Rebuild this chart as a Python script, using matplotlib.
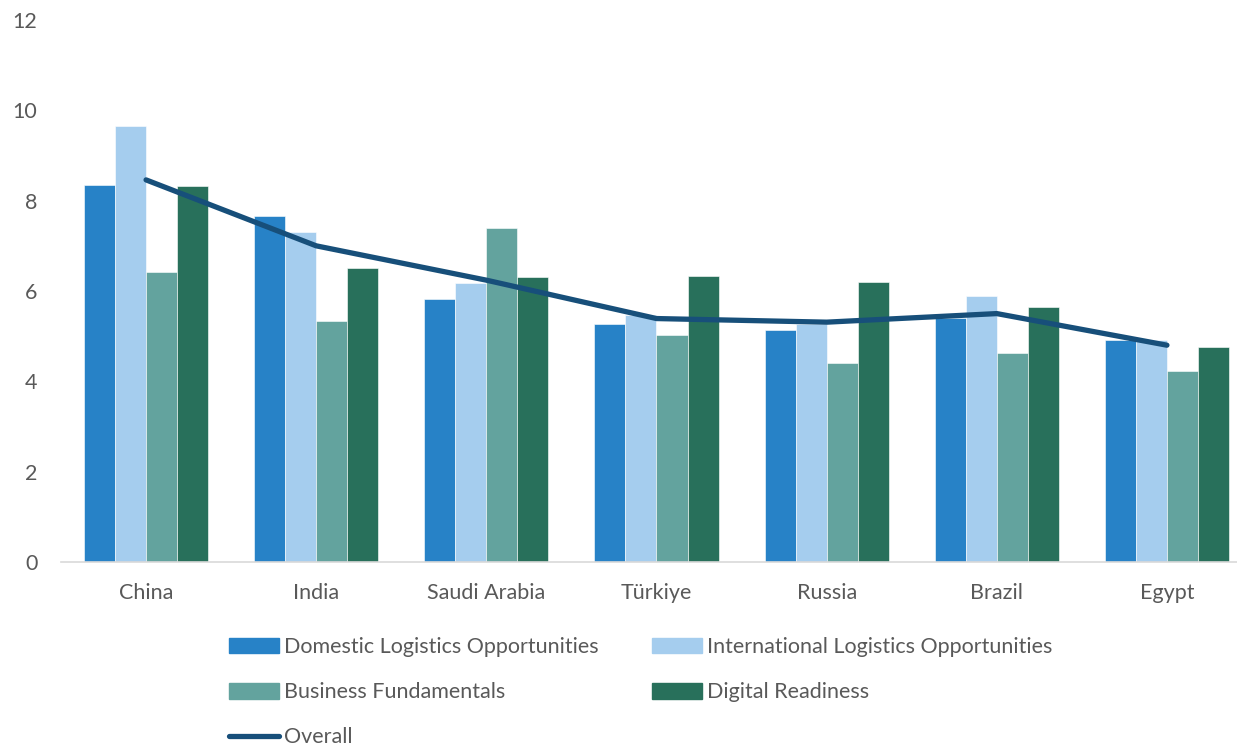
import numpy as np
import matplotlib
matplotlib.use("Agg")
import matplotlib.pyplot as plt
from matplotlib.lines import Line2D
from matplotlib.patches import Patch

# ----------------------------------------------------
# data
# ----------------------------------------------------
countries = ["China", "India", "Saudi Arabia", "Türkiye", "Russia", "Brazil", "Egypt"]
domestic = [8.34, 7.67, 5.82, 5.26, 5.13, 5.40, 4.91]
international = [9.66, 7.30, 6.18, 5.47, 5.27, 5.90, 4.92]
business = [6.43, 5.34, 7.39, 5.03, 4.40, 4.63, 4.23]
digital = [8.32, 6.52, 6.32, 6.34, 6.21, 5.65, 4.76]
overall = [8.46, 7.00, 6.24, 5.39, 5.31, 5.50, 4.80]

series_names = ["Domestic Logistics Opportunities", "International Logistics Opportunities",
                "Business Fundamentals", "Digital Readiness"]
colors = ["#2782c7", "#a5cdee", "#63a39e", "#28705b"]
line_color = "#174f7a"
text_color = "#595959"

plt.rcParams["font.family"] = ["Lato", "DejaVu Sans"]

fig = plt.figure(figsize=(12.37, 7.47), dpi=100)
ax = fig.add_axes([61 / 1237, 185 / 747, 1191 / 1237, 542 / 747])

x = np.arange(len(countries))
width = 31 / 170
series = [domestic, international, business, digital]
for i, vals in enumerate(series):
    ax.bar(x + (i - 1.5) * width, vals, width, color=colors[i],
           edgecolor="white", linewidth=0.4, zorder=2)

ax.plot(x, overall, color=line_color, linewidth=3.8, solid_capstyle="round",
        solid_joinstyle="round", zorder=3)

ax.set_xlim(-0.5, len(countries) - 0.5)
ax.set_ylim(0, 12)
ax.set_yticks(range(0, 13, 2))
ax.set_xticks(x)
ax.set_xticklabels(countries)
ax.tick_params(axis="both", length=0, labelsize=15.5, colors=text_color)
ax.tick_params(axis="y", pad=17)
ax.tick_params(axis="x", pad=15)
for s in ["top", "right", "left"]:
    ax.spines[s].set_visible(False)
ax.spines["bottom"].set_color("#d9d9d9")
ax.spines["bottom"].set_linewidth(1.2)

# legend laid out row by row like the original (Overall on its own row)
h = [Patch(color=c) for c in colors]
ovl = Line2D([], [], color=line_color, linewidth=3.8, solid_capstyle="round")
handles = [h[0], h[2], ovl, h[1], h[3]]
labels = [series_names[0], series_names[2], "Overall", series_names[1], series_names[3]]
leg = fig.legend(handles, labels, loc="upper left", bbox_to_anchor=(229 / 1237, 1 - 637 / 747),
                 ncol=2, frameon=False, fontsize=15.5, handlelength=2.3, handleheight=0.75,
                 handletextpad=0.25, labelspacing=1.17, columnspacing=2.5,
                 borderaxespad=0, borderpad=0)
for t in leg.get_texts():
    t.set_color(text_color)

fig.savefig("out.png", dpi=100)
